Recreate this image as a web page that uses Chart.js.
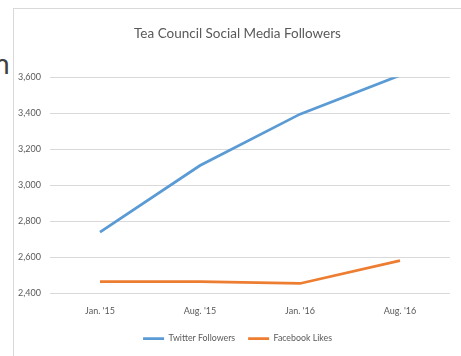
<!DOCTYPE html>
<html>
<head>
<meta charset="utf-8">
<script src="https://cdn.jsdelivr.net/npm/chart.js@4/dist/chart.umd.min.js"></script>
<style>
  html, body { margin: 0; padding: 0; background: #fff; }
  body { width: 461px; height: 356px; position: relative; overflow: hidden; }
  .frame { position: absolute; left: 13px; top: 8px; width: 460px; height: 360px;
           border-left: 1px solid #d9d9d9; border-top: 1px solid #d9d9d9; }
  .slide-text { position: absolute; left: -6px; top: 46px; font: 28px 'Lato', sans-serif; color: #404040; }
  #wrap { position: absolute; left: 0; top: 0; width: 461px; height: 356px; }
</style>
</head>
<body>
<div class="slide-text">n</div>
<div class="frame"></div>
<div id="wrap"><canvas id="chart"></canvas></div>
<script>
const periods = ["Jan. '15", "Aug. '15", "Jan. '16", "Aug. '16"];
const twitterFollowers = [2740, 3110, 3395, 3610];
const facebookLikes = [2465, 2465, 2455, 2582];
const yTicks = [2400, 2600, 2800, 3000, 3200, 3400, 3600];

const FONT = "'Lato', sans-serif";
const GREY = '#595959';

// the y scale is kept narrow so the title centres on the frame;
// widen its box after layout so the tick labels are not clipped
const unclipYLabels = {
  id: 'unclipYLabels',
  afterLayout: chart => { chart.scales.y.left = 0; }
};

function initChart() {
  const ctx = document.getElementById('chart').getContext('2d');
  new Chart(ctx, {
    type: 'line',
    data: {
      labels: periods,
      datasets: [
        {
          label: 'Twitter Followers',
          data: twitterFollowers,
          borderColor: '#5B9BD5',
          backgroundColor: '#5B9BD5',
          borderWidth: 2.75,
          pointRadius: 0,
          tension: 0
        },
        {
          label: 'Facebook Likes',
          data: facebookLikes,
          borderColor: '#ED7D31',
          backgroundColor: '#ED7D31',
          borderWidth: 2.75,
          pointRadius: 0,
          tension: 0
        }
      ]
    },
    options: {
      responsive: true,
      maintainAspectRatio: false,
      animation: false,
      layout: { padding: { left: 25, right: 11, top: 0, bottom: 3 } },
      plugins: {
        title: {
          display: true,
          text: 'Tea Council Social Media Followers',
          color: GREY,
          font: { family: FONT, size: 13.5, weight: 'normal' },
          padding: { top: 26, bottom: 35 }
        },
        legend: {
          position: 'bottom',
          labels: {
            color: GREY,
            font: { family: FONT, size: 8.8 },
            usePointStyle: true,
            pointStyle: 'line',
            pointStyleWidth: 21,
            padding: 13
          }
        },
        tooltip: { enabled: false }
      },
      scales: {
        x: {
          offset: true,
          grid: { display: false },
          border: { display: false },
          ticks: { color: GREY, font: { family: FONT, size: 9 }, padding: 4.5, maxRotation: 0 }
        },
        y: {
          min: 2400,
          max: 3600,
          afterBuildTicks: scale => { scale.ticks = yTicks.map(v => ({ value: v })); },
          afterFit: scale => { scale.width = 25; },
          grid: { color: '#d9d9d9', drawTicks: false },
          border: { display: false },
          ticks: {
            color: GREY,
            font: { family: FONT, size: 9 },
            padding: 9,
            callback: v => v.toLocaleString('en-US')
          }
        }
      }
    },
    plugins: [unclipYLabels]
  });
}

document.addEventListener('DOMContentLoaded', initChart);
</script>
</body>
</html>
